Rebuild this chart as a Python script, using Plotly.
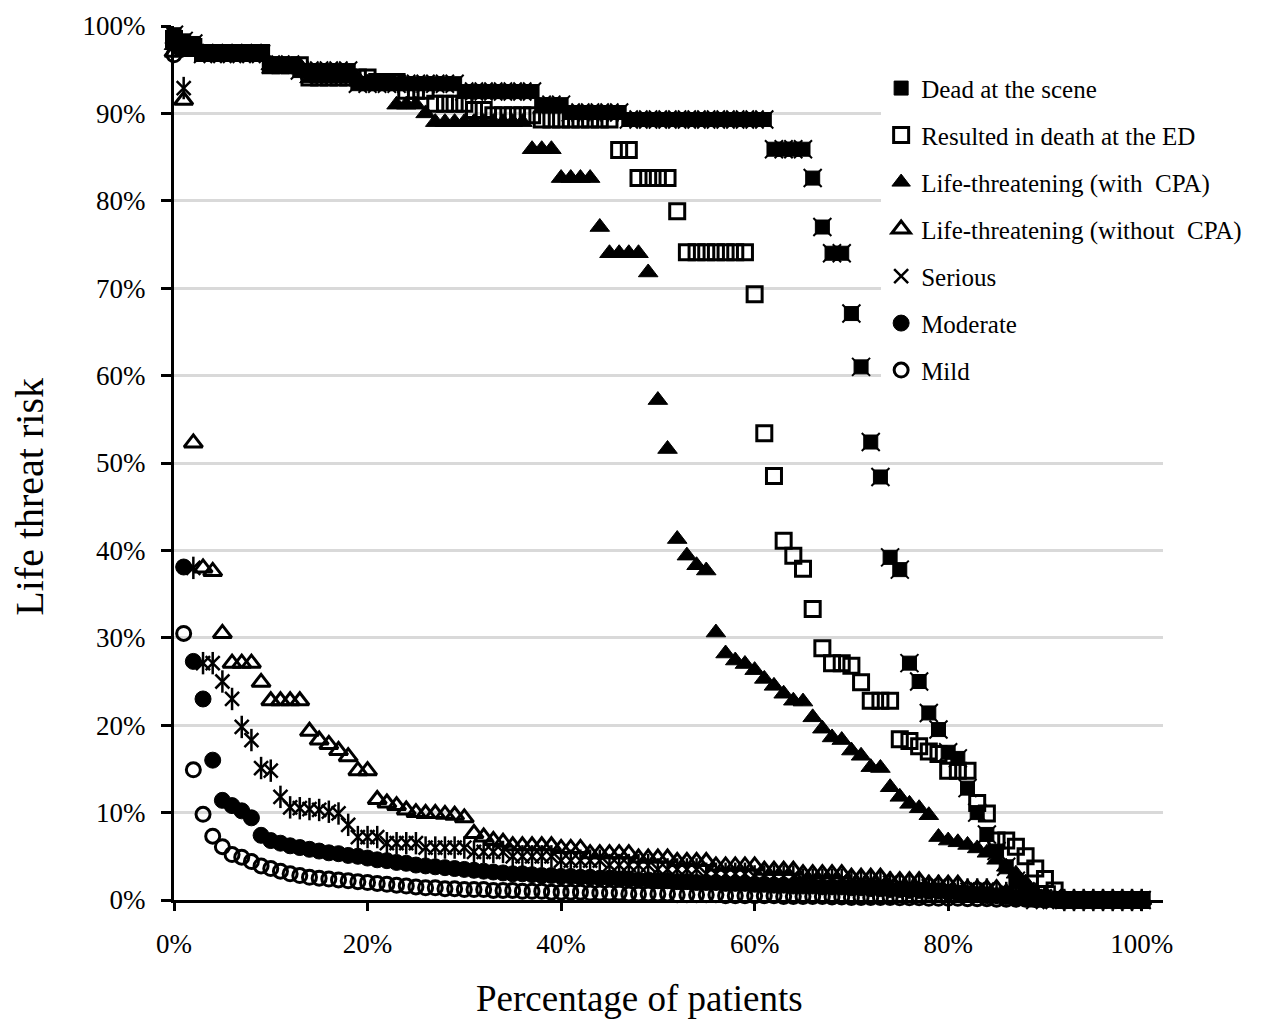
import plotly.graph_objects as go

# x position of each point: percentage of patients (0 .. 100 %)
pct_patients = list(range(101))

dead_scene = [99.0, 98.3, 98.0] + [96.8]*7 + [95.6]*3 + [94.9]*6 + [93.4]*11 + [92.5]*8 + [91.0]*3 + [90.1]*6 + [89.3]*15 + [85.9]*4 + [
    82.6, 77.0, 74.0, 74.0, 67.1, 61.0, 52.4, 48.4, 39.2, 37.8, 27.1, 25.0, 21.4, 19.5, 16.9, 16.2, 12.8, 10.0, 7.5, 5.6, 3.8, 2.2, 1.0] + [0.0]*12

death_ed = [98.5] + [97.6]*2 + [96.9]*7 + [95.5]*4 + [94.1]*7 + [93.6]*3 + [92.6]*3 + [91.1]*4 + [90.4]*2 + [89.8]*5 + [89.3]*8 + [85.8]*2 + [82.6]*4 + [78.8] + [74.1]*7 + [
    69.3, 53.4, 48.5, 41.1, 39.4, 37.9, 33.3, 28.8, 27.1, 27.1, 26.8, 24.9] + [22.8]*3 + [18.4, 18.2, 17.6, 17.0, 16.7] + [14.8]*3 + [
    11.1, 9.9, 6.8, 6.8, 6.1, 5.0, 3.6, 2.4, 1.1] + [0.0]*9

lt_cpa = [97.8] + [97.0]*9 + [95.5]*4 + [94.0]*6 + [93.5]*3 + [91.0]*3 + [90.0] + [89.0]*10 + [85.9]*3 + [82.6]*4 + [77.0] + [74.0]*4 + [
    71.8, 57.2, 51.6, 41.3, 39.4, 38.3, 37.7, 30.6, 28.2, 27.4, 27.0, 26.3, 25.3, 24.5, 23.6, 22.8, 22.7, 20.9, 19.6, 18.6, 18.3,
    17.1, 16.5, 15.2, 15.1, 12.9, 11.8, 11.0, 10.5, 9.7, 7.2, 6.8, 6.6, 6.3, 5.9, 5.4, 4.6, 3.8, 3.0, 2.0, 1.0, 0.4] + [0.0]*10

lt_nocpa = [97.0, 91.5, 52.3, 38.0, 37.6, 30.5, 27.1, 27.1, 27.1, 24.9, 22.8, 22.8, 22.8, 22.8,
            19.3, 18.3, 17.8, 17.1, 16.4, 14.8, 14.8, 11.5, 11.1, 10.8, 10.3, 10.0, 9.9, 9.9, 9.8, 9.7, 9.4, 7.6, 7.2, 6.8, 6.6] + \
    [6.2]*5 + [5.9]*3 + [5.3]*5 + [4.8]*4 + [4.4]*4 + [3.9]*5 + [3.4]*4 + [3.0]*5 + [2.6]*4 + [2.2]*4 + [1.8]*4 + [1.3]*4 + [0.8]*3 + [0.4]*2 + [0.0]*10

serious = [98.0, 92.9, 38.0, 27.1, 27.1, 25.0, 23.0, 19.8, 18.3, 15.1, 14.8, 11.8, 10.6, 10.5, 10.4, 10.3, 10.1, 9.9, 8.6] + \
    [7.2]*3 + [6.5]*4 + [6.0]*5 + [5.5]*4 + [5.0]*5 + [4.5]*5 + [4.0]*5 + [3.5]*5 + [3.0]*5 + [2.7]*5 + [2.3]*5 + [2.0]*5 + [1.6]*5 + [1.2]*5 + [0.8]*4 + [0.4]*3 + [0.0]*9

moderate = [98.0, 38.1, 27.3, 23.0, 16.0, 11.4, 10.8, 10.2, 9.4, 7.4, 6.8, 6.5, 6.2, 6.0, 5.8, 5.6, 5.4, 5.3, 5.1, 5.0,
            4.8, 4.6, 4.5, 4.3, 4.2, 4.0, 3.9, 3.8, 3.7, 3.6, 3.5, 3.4, 3.3, 3.2, 3.1, 3.0, 3.0, 2.9, 2.8, 2.8,
            2.7, 2.7, 2.6, 2.6, 2.5, 2.5, 2.4, 2.4, 2.3, 2.3, 2.2, 2.2, 2.1, 2.1, 2.0, 2.0, 2.0, 1.9, 1.9, 1.9,
            1.8, 1.8, 1.7, 1.7, 1.6, 1.6, 1.6, 1.5, 1.5, 1.5, 1.4, 1.4, 1.3, 1.3, 1.2, 1.2, 1.1, 1.1, 1.0, 1.0,
            0.9, 0.8, 0.7, 0.6, 0.5, 0.5, 0.4, 0.3, 0.2, 0.1] + [0.0]*11

mild = [96.7, 30.5, 14.9, 9.8, 7.3, 6.1, 5.2, 4.9, 4.4, 3.9, 3.6, 3.3, 3.0, 2.8, 2.6, 2.5, 2.4, 2.3, 2.2, 2.1,
        2.0, 1.9, 1.8, 1.7, 1.6, 1.5, 1.4, 1.4, 1.3, 1.3, 1.2, 1.2, 1.2, 1.1, 1.1, 1.1, 1.0, 1.0, 1.0, 0.9,
        0.9, 0.9, 0.9, 0.8, 0.8, 0.8, 0.8, 0.7, 0.7, 0.7, 0.7, 0.7, 0.6, 0.6, 0.6, 0.6, 0.6, 0.5, 0.5, 0.5,
        0.5, 0.5, 0.5, 0.4, 0.4, 0.4, 0.4, 0.4, 0.35, 0.35, 0.3, 0.3, 0.3, 0.3, 0.3, 0.25, 0.25, 0.25, 0.2, 0.2,
        0.2, 0.2, 0.15, 0.15, 0.15, 0.1, 0.1, 0.1, 0.1, 0.1, 0.05, 0.05, 0.05, 0.05, 0, 0, 0, 0, 0, 0, 0]

series_names = ["Dead at the scene", "Resulted in death at the ED", "Life-threatening (with  CPA)",
                "Life-threatening (without  CPA)", "Serious", "Moderate", "Mild"]

x_ticks = [0, 20, 40, 60, 80, 100]
y_ticks = [0, 10, 20, 30, 40, 50, 60, 70, 80, 90, 100]

FONT = "Liberation Serif, DejaVu Serif, serif"
BLACK = "#000000"

fig = go.Figure()

def add(name, y, symbol, size, lw=0, fill=BLACK, group=None, show=True):
    fig.add_trace(go.Scatter(
        x=pct_patients, y=y, mode="markers", name=name,
        legendgroup=group or name, showlegend=show,
        cliponaxis=False, hoverinfo="x+y+name",
        marker=dict(symbol=symbol, size=size, color=fill,
                    line=dict(color=BLACK, width=lw)),
    ))

add(series_names[0], dead_scene, "square", 14, lw=1)
add(series_names[0] + " ", dead_scene, "x-thin-open", 18, lw=2, group=series_names[0], show=False)
add(series_names[1], death_ed, "square-open", 15, lw=3)
add(series_names[2], lt_cpa, "triangle-up", 17, lw=1)
add(series_names[3], lt_nocpa, "triangle-up-open", 16, lw=3)
add(series_names[4], serious, "x-thin-open", 14, lw=2.5)
add(series_names[4] + " ", serious, "line-ns-open", 16, lw=2.5, group=series_names[4], show=False)
add(series_names[5], moderate, "circle", 16, lw=1)
add(series_names[6], mild, "circle-open", 14, lw=3)

fig.update_layout(
    width=1280, height=1011,
    margin=dict(l=166, r=125, t=18, b=119, autoexpand=False),
    paper_bgcolor="white", plot_bgcolor="white",
    font=dict(family=FONT, size=26, color=BLACK),
    showlegend=True,
    legend=dict(
        x=0.715, y=0.955, xanchor="left", yanchor="top",
        bgcolor="white", borderwidth=0,
        font=dict(family=FONT, size=25, color=BLACK),
        itemwidth=30, tracegroupgap=11.5, traceorder="grouped",
    ),
    xaxis=dict(
        range=[0, 102.2], tickvals=x_ticks, ticktext=[f"{v}%" for v in x_ticks],
        showline=True, linecolor=BLACK, linewidth=3,
        ticks="outside", ticklen=8, tickwidth=3, tickcolor=BLACK,
        ticklabelstandoff=10, automargin=False,
        showgrid=False, zeroline=False,
        tickfont=dict(family=FONT, size=27),
    ),
    yaxis=dict(
        range=[0, 100], tickvals=y_ticks, ticktext=[f"{v}%" for v in y_ticks],
        showline=True, linecolor=BLACK, linewidth=3,
        ticks="outside", ticklen=10, tickwidth=3, tickcolor=BLACK,
        ticklabelstandoff=10, automargin=False,
        showgrid=True, gridcolor="#d9d9d9", gridwidth=3, zeroline=False,
        tickfont=dict(family=FONT, size=27),
    ),
    annotations=[
        dict(text="Percentage of patients", xref="paper", yref="paper",
             x=0.471, y=-0.113, xanchor="center", yanchor="middle", showarrow=False,
             font=dict(family=FONT, size=37, color=BLACK)),
        dict(text="Life threat risk", xref="paper", yref="paper", textangle=-90,
             x=-0.147, y=0.461, xanchor="center", yanchor="middle", showarrow=False,
             font=dict(family=FONT, size=40, color=BLACK)),
    ],
)

fig.write_html("out.html")
